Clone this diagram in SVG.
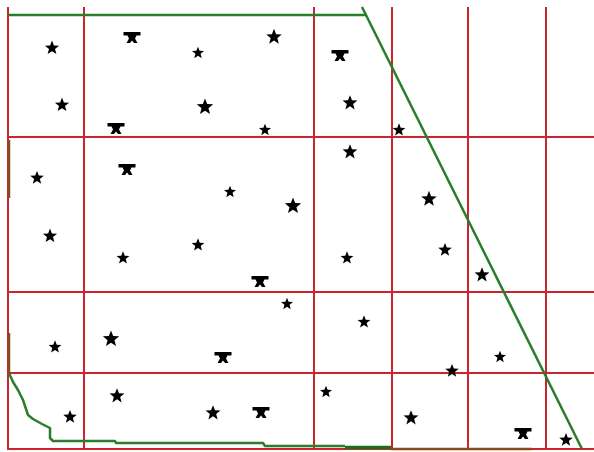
<svg xmlns="http://www.w3.org/2000/svg" width="594" height="452" viewBox="0 0 594 452">
<style>
.grid{stroke:#c8262c;stroke-width:2;fill:none}
.bnd{stroke:#2a7d2a;stroke-width:2.5;fill:none;stroke-linejoin:round}
.brn{stroke:#8a4a1a;stroke-width:2.5;fill:none}
.st{fill:#000}
</style>
<defs>
<polygon id="s" points="0,-7.5 1.9,-2.6 7.1,-2.3 3.0,1.0 4.4,6.1 0,3.2 -4.4,6.1 -3.0,1.0 -7.1,-2.3 -1.9,-2.6"/>
<path id="a" d="M-8.5,-5 H8.5 V-1.5 H4.5 L3,1.5 L5.5,6 H2 L0,3.5 L-2,6 H-5.5 L-3,1.5 L-4.5,-1.5 H-8.5 Z"/>
</defs>
<rect width="594" height="452" fill="#fff"/>
<g id="grid" class="grid">
<path d="M8,7V450M84,7V450M314,7V450M392,7V450M468,7V450M546,7V450"/>
<path d="M8,137H594M8,292H594M8,373H594M8,449H594"/>
</g>
<g id="boundary">
<path class="bnd" d="M8,15H366"/>
<path class="bnd" d="M362,7L582,449"/>
<path class="bnd" d="M9,373L13,382L18,390L23,400L28,415L33,419L42,424L50,428L50,438L53,441L115,441L116,443L263,443L265,446L345,446"/>
<path d="M345,447.5H391" stroke="#1f6e1f" stroke-width="3.5"/>
<path class="brn" d="M391,449H532"/>
<path class="brn" d="M9,140V198M9,333V373"/>
</g>
<g id="stars" class="st">
<use href="#s" transform="translate(52,48)"/>
<use href="#a" transform="translate(132,37)"/>
<use href="#s" transform="translate(198,53) scale(0.85)"/>
<use href="#s" transform="translate(274,37) scale(1.1)"/>
<use href="#a" transform="translate(340,55)"/>
<use href="#s" transform="translate(62,105)"/>
<use href="#a" transform="translate(116,128)"/>
<use href="#s" transform="translate(205,107) scale(1.15)"/>
<use href="#s" transform="translate(265,130) scale(0.85)"/>
<use href="#s" transform="translate(350,103) scale(1.05)"/>
<use href="#s" transform="translate(399,130) scale(0.9)"/>
<use href="#s" transform="translate(350,152) scale(1.05)"/>
<use href="#s" transform="translate(37,178) scale(0.95)"/>
<use href="#a" transform="translate(127,169)"/>
<use href="#s" transform="translate(230,192) scale(0.85)"/>
<use href="#s" transform="translate(293,206) scale(1.15)"/>
<use href="#s" transform="translate(429,199) scale(1.1)"/>
<use href="#s" transform="translate(50,236)"/>
<use href="#s" transform="translate(198,245) scale(0.9)"/>
<use href="#s" transform="translate(123,258) scale(0.9)"/>
<use href="#s" transform="translate(347,258) scale(0.9)"/>
<use href="#s" transform="translate(445,250) scale(0.95)"/>
<use href="#a" transform="translate(260,281)"/>
<use href="#s" transform="translate(482,275) scale(1.05)"/>
<use href="#s" transform="translate(287,304) scale(0.85)"/>
<use href="#s" transform="translate(364,322) scale(0.9)"/>
<use href="#s" transform="translate(55,347) scale(0.9)"/>
<use href="#s" transform="translate(111,339) scale(1.15)"/>
<use href="#a" transform="translate(223,357)"/>
<use href="#s" transform="translate(500,357) scale(0.85)"/>
<use href="#s" transform="translate(452,371) scale(0.95)"/>
<use href="#s" transform="translate(117,396) scale(1.05)"/>
<use href="#s" transform="translate(70,417) scale(0.95)"/>
<use href="#s" transform="translate(213,413) scale(1.05)"/>
<use href="#a" transform="translate(261,412)"/>
<use href="#s" transform="translate(326,392) scale(0.85)"/>
<use href="#s" transform="translate(411,418) scale(1.05)"/>
<use href="#a" transform="translate(523,433)"/>
<use href="#s" transform="translate(566,440) scale(0.95)"/>
</g>
</svg>
